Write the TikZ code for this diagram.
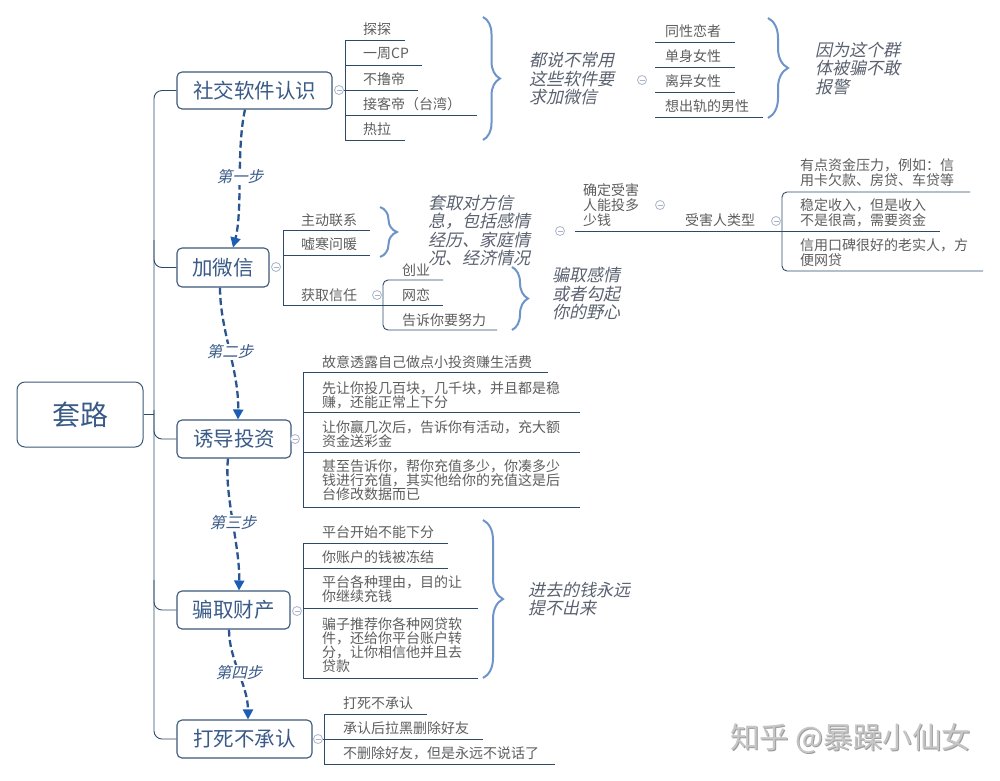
\documentclass[tikz,border=0pt]{standalone}
\usepackage{fontspec}
\newfontfamily\cjk{Noto Sans CJK SC}
\newfontfamily\cjkit[FakeSlant=0.22]{Noto Sans CJK SC}
\usetikzlibrary{arrows.meta,decorations.pathreplacing}
\definecolor{linec}{HTML}{2E4A6B}
\definecolor{boxc}{HTML}{3B5878}
\definecolor{l1text}{HTML}{3A5A88}
\definecolor{itemc}{HTML}{5E5E5E}
\definecolor{notec}{HTML}{5A6270}
\definecolor{bracec}{HTML}{6E95C9}
\definecolor{arrowc}{HTML}{2A5590}
\definecolor{tipc}{HTML}{1E5DB5}
\definecolor{circc}{HTML}{A9B3C9}
\definecolor{wmc}{HTML}{C6C6C6}
\definecolor{wmshade}{HTML}{9C9C9C}
\begin{document}
\begin{tikzpicture}[x=1pt,y=-1pt,
 l1box/.style={draw=boxc, line width=1.1pt, rounded corners=5pt, text=l1text, font=\cjk\fontsize{20.5}{21}\selectfont, inner sep=0pt, fill=white},
 item/.style={anchor=west, inner sep=0pt, text=itemc, font=\cjk\fontsize{14}{14}\selectfont, align=left},
 itemb/.style={anchor=west, inner sep=0pt, text=itemc, font=\cjk\fontsize{14}{15}\selectfont, align=left},
 note/.style={anchor=west, inner sep=0pt, text=notec, font=\cjkit\fontsize{17}{18.5}\selectfont, align=left},
 steplabel/.style={inner sep=1pt, fill=white, text=l1text, font=\cjkit\fontsize{15.5}{16}\selectfont},
 tree/.style={draw=linec, line width=0.9pt},
 bracel/.style={draw=bracec, line width=2pt, decorate, decoration={brace, amplitude=#1}},
 bracel/.default=17pt,
 stepar/.style={draw=arrowc, line width=2.3pt, dash pattern=on 7pt off 3.5pt, -{Triangle[length=10pt,width=10pt,color=tipc]}},
 collapse/.style={circle, draw=circc, line width=0.8pt, minimum size=9pt, inner sep=0pt, fill=white,
   path picture={\draw[circc, line width=0.8pt] ([xshift=-2.5pt]path picture bounding box.center) -- ([xshift=2.5pt]path picture bounding box.center);}},
 wmark/.style={anchor=west, inner sep=0pt, font=\cjk\fontsize{29.5}{30}\selectfont},
]
\fill[white] (0,0) rectangle (1000,780);
\useasboundingbox (0,0) rectangle (1000,780);

% root and level-1 nodes
\node[l1box, font=\cjk\fontsize{28}{28}\selectfont, line width=1pt, rounded corners=8pt, minimum width=126pt, minimum height=65pt] (root) at (80,414.5) {套路};
\node[l1box, minimum width=155pt, minimum height=37pt] (n1) at (254.5,90.5) {社交软件认识};
\node[l1box, minimum width=92pt, minimum height=39pt] (n2) at (223,267.5) {加微信};
\node[l1box, minimum width=114pt, minimum height=38pt] (n3) at (234,439) {诱导投资};
\node[l1box, minimum width=113pt, minimum height=38pt] (n4) at (233.5,610) {骗取财产};
\node[l1box, minimum width=135pt, minimum height=38pt] (n5) at (244.5,739) {打死不承认};

% trunk
\draw[tree] (root.east) -- (154,414.5);
\draw[tree, rounded corners=8pt] (n1.west) -- (154,90.5) -- (154,739) -- (n5.west);
\draw[tree, rounded corners=8pt] (154,240) |- (n2.west);
\draw[tree, rounded corners=8pt] (154,410) |- (n3.west);
\draw[tree, rounded corners=8pt] (154,580) |- (n4.west);

% ---- node 1 children
\node[collapse] (c1) at (339,90) {};
\draw[tree] (405,40) -- (345,40) -- (345,140) -- (405,140);
\draw[tree] (345,65) -- (422,65);
\draw[tree] (c1.east) -- (418,90);
\draw[tree] (345,115) -- (477,115);
\node[item] (a1) at (363,29) {探探};
\node[item] (a2) at (363,54) {一周CP};
\node[item] (a3) at (363,79) {不撸帝};
\node[item] (a4) at (363,104) {接客帝（台湾）};
\node[item] (a5) at (363,129) {热拉};
\draw[bracel=17pt] (483,17) -- (483,140);
\node[note] (t1) at (529,79) {都说不常用\\这些软件要\\求加微信};
\node[collapse] (c1b) at (642,80) {};
\draw[tree] (655,42) -- (735,42);
\draw[tree] (655,67) -- (735,67);
\draw[tree] (655,92) -- (735,92);
\draw[tree] (655,117) -- (763,117);
\node[item] (b1) at (665,31) {同性恋者};
\node[item] (b2) at (665,56) {单身女性};
\node[item] (b3) at (665,81) {离异女性};
\node[item] (b4) at (665,106) {想出轨的男性};
\draw[bracel=20pt] (768,18) -- (768,118);
\node[note] (t2) at (815,68.5) {因为这个群\\体被骗不敢\\报警};

% ---- node 2 children
\node[collapse] (c2) at (276,267) {};
\draw[tree] (370,230) -- (283,230) -- (283,305) -- (443,305);
\draw[tree] (283,255) -- (370,255);
\node[item] (d1) at (301,220) {主动联系};
\node[item] (d2) at (301,244) {嘘寒问暖};
\node[item] (d3) at (301,295) {获取信任};
\node[collapse] (c2b) at (377,295) {};
\draw[tree, rounded corners=5pt] (443,280) -- (383,280) -- (383,330) -- (497,330);
\node[item] (e1) at (402,270) {创业};
\node[item] (e2) at (402,295) {网恋};
\node[item] (e3) at (402,320) {告诉你要努力};
\draw[bracel=17pt] (380,207) -- (380,257);
\node[note] (t3) at (428,230.5) {套取对方信\\息，包括感情\\经历、家庭情\\况、经济情况};
\draw[bracel=16pt] (512,267) -- (512,330);
\node[note] (t4) at (552,293.5) {骗取感情\\或者勾起\\你的野心};
\node[collapse] (c3) at (560,231) {};
\draw[tree] (575,231) -- (940,231);
\node[itemb] (f1) at (583,205) {确定受害\\人能投多\\少钱};
\node[collapse] (c4) at (660,205) {};
\node[item] (f2) at (685,220) {受害人类型};
\node[collapse] (c5) at (776,221) {};
\draw[tree, rounded corners=5pt] (970,192) -- (782,192) -- (782,271) -- (983,271);
\node[itemb] (g1) at (800,172.5) {有点资金压力，例如：信\\用卡欠款、房贷、车贷等};
\node[itemb] (g2) at (800,213) {稳定收入，但是收入\\不是很高，需要资金};
\node[itemb] (g3) at (800,252.5) {信用口碑很好的老实人，方\\便网贷};

% ---- node 3 children
\node[collapse] (c6) at (295,439) {};
\draw[tree] (548,372) -- (303,372) -- (303,507) -- (580,507);
\draw[tree] (303,412) -- (580,412);
\draw[tree] (303,452) -- (580,452);
\node[item] (h1) at (322,362) {故意透露自己做点小投资赚生活费};
\node[item] (h2) at (322,395) {先让你投几百块，几千块，并且都是稳\\赚，还能正常上下分};
\node[item] (h3) at (322,434) {让你赢几次后，告诉你有活动，充大额\\资金送彩金};
\node[item] (h4) at (322,480.5) {甚至告诉你，帮你充值多少，你凑多少\\钱进行充值，其实他给你的充值这是后\\台修改数据而已};

% ---- node 4 children
\node[collapse] (c7) at (297,611) {};
\draw[tree] (448,543) -- (303,543) -- (303,678) -- (478,678);
\draw[tree] (303,568) -- (448,568);
\draw[tree] (303,608) -- (478,608);
\node[item] (k1) at (322,532) {平台开始不能下分};
\node[item] (k2) at (322,557) {你账户的钱被冻结};
\node[item] (k3) at (322,589.5) {平台各种理由，目的让\\你继续充钱};
\node[item] (k4) at (322,645) {骗子推荐你各种网贷软\\件，还给你平台账户转\\分，让你相信他并且去\\贷款};
\draw[bracel=20pt] (483,520) -- (483,678);
\node[note] (t5) at (528,599) {进去的钱永远\\提不出来};

% ---- node 5 children
\node[collapse] (c8) at (318,739) {};
\draw[tree] (427,714) -- (324,714) -- (324,764) -- (555,764);
\draw[tree] (c8.east) -- (483,739);
\node[item] (m1) at (343,703) {打死不承认};
\node[item] (m2) at (343,728) {承认后拉黑删除好友};
\node[item] (m3) at (343,753) {不删除好友，但是永远不说话了};

% ---- step arrows
\draw[stepar] ([xshift=-9.5pt]n1.south) .. controls (236,150) and (243,210) .. ([xshift=10pt]n2.north);
\draw[stepar] ([xshift=-3pt]n2.south) .. controls (220,330) and (239,370) .. ([xshift=4pt]n3.north);
\draw[stepar] ([xshift=-6pt]n3.south) .. controls (224,495) and (240,545) .. ([xshift=5.5pt]n4.north);
\draw[stepar] ([xshift=-4.5pt]n4.south) .. controls (229,660) and (248,685) .. ([xshift=3.5pt]n5.north);
\node[steplabel] (s1) at (240,177) {第一步};
\node[steplabel] (s2) at (230,352) {第二步};
\node[steplabel] (s3) at (233,523) {第三步};
\node[steplabel] (s4) at (239,673) {第四步};

% watermark (embossed look)
\node[wmark, text=wmshade] (wms) at (731,739) {知乎 @暴躁小仙女};
\node[wmark, text=wmc] (wm) at (730,738) {知乎 @暴躁小仙女};
\end{tikzpicture}
\end{document}
